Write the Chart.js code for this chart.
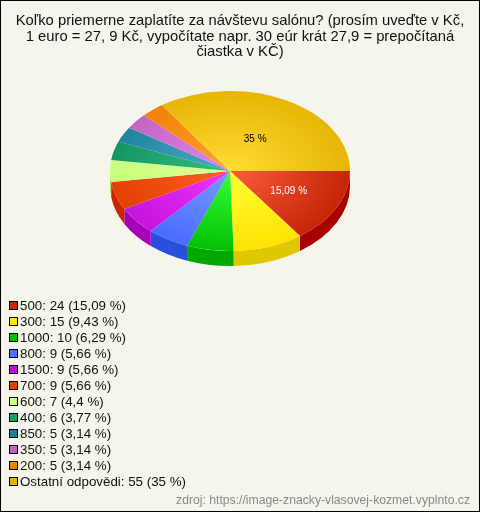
<!DOCTYPE html>
<html>
<head>
<meta charset="utf-8">
<script src="https://cdn.jsdelivr.net/npm/chart.js@4"></script>
<style>
  html, body { margin: 0; padding: 0; background: #f5f5ec; }
  #wrap { position: relative; width: 480px; height: 512px; overflow: hidden; background: #f5f5ec; font-family: "Liberation Sans", Arial, sans-serif; }
  #wrap canvas { position: absolute; left: 0; top: 0; }
  #frame { position: absolute; left: 0; top: 0; width: 478px; height: 510px; border: 1px solid #000; }
  #legend { position: absolute; left: 9px; top: 298px; font-size: 13.33px; color: #111; }
  #legend div { height: 16px; line-height: 16px; white-space: nowrap; }
  #legend i { display: inline-block; box-sizing: border-box; width: 9px; height: 9px; border: 1px solid #000; margin-right: 2px; vertical-align: 0; }
  #source { position: absolute; right: 10px; top: 493px; font-size: 12.2px; line-height: 14px; color: #888; }
</style>
</head>
<body>
<div id="wrap">
  <canvas id="pie" width="480" height="512"></canvas>
  <div id="frame"></div>
  <div id="legend"></div>
  <div id="source">zdroj: https://image-znacky-vlasovej-kozmet.vyplnto.cz</div>
</div>
<script>
/***************data********************/
const titleLines = [
  "Koľko priemerne zaplatíte za návštevu salónu? (prosím uveďte v Kč,",
  "1 euro = 27, 9 Kč, vypočítate napr. 30 eúr krát 27,9 = prepočítaná",
  "čiastka v KČ)"
];
const categories = ["500", "300", "1000", "800", "1500", "700", "600", "400", "850", "350", "200", "Ostatní odpovědi"];
const counts = [24, 15, 10, 9, 9, 9, 7, 6, 5, 5, 5, 55];
const percents = ["15,09", "9,43", "6,29", "5,66", "5,66", "5,66", "4,4", "3,77", "3,14", "3,14", "3,14", "35"];

const innerColors = ["#fa5c3c", "#ffff33", "#33ff33", "#7799ff", "#ee33ff", "#ff6020", "#ddff99", "#33c080", "#50a8c8", "#e088e8", "#ffa030", "#ffdd33"];
const outerColors = ["#bf1e00", "#ffdf00", "#00b800", "#4466ff", "#c010d8", "#e03c00", "#c4ff77", "#109060", "#1a7f9a", "#c060c0", "#ee7f00", "#e4b000"];
const sideColors = ["#a90000", "#e0c800", "#00a800", "#2a4fdd", "#a800b8", "#c82800", "#a8d860", "#007848", "#106880", "#a048a0", "#c86000", "#c09000"];
const legendColors = ["#c22a00", "#ffe600", "#00c000", "#4a70ff", "#c010d8", "#e04000", "#ccff80", "#10a060", "#1a7f9a", "#c060c0", "#ee7f00", "#e4b000"];

/***************3d look********************/
const pieX = 230, pieY = 171, squash = 2 / 3, depth = 15;
const labelAt = { 0: 0.55, 11: 0.45 };   // only the big slices carry a label

function flatten(ctx, arc) {
  ctx.translate(pieX, pieY);
  ctx.scale(1, squash);
  ctx.translate(-arc.x, -arc.y);
}

const pie3d = {
  id: "pie3d",
  beforeDatasetsDraw(chart) {
    const ctx = chart.ctx, arcs = chart.getDatasetMeta(0).data;
    // side wall, only the front half of the pie shows it
    arcs.forEach((arc, i) => {
      const from = Math.max(arc.startAngle, 0), to = Math.min(arc.endAngle, Math.PI);
      if (to <= from) return;
      const r = arc.outerRadius;
      ctx.save();
      ctx.translate(pieX, pieY);
      ctx.beginPath();
      ctx.ellipse(0, 0, r, r * squash, 0, from, to);
      ctx.ellipse(0, depth, r, r * squash, 0, to, from, true);
      ctx.closePath();
      ctx.fillStyle = sideColors[i];
      ctx.fill();
      ctx.restore();
    });
    ctx.save();
    flatten(ctx, arcs[0]);
  },
  afterDatasetsDraw(chart) {
    const ctx = chart.ctx, arcs = chart.getDatasetMeta(0).data;
    ctx.restore();
    ctx.save();
    ctx.font = '10px "Liberation Sans", Arial, sans-serif';
    ctx.textAlign = "center";
    ctx.textBaseline = "middle";
    Object.keys(labelAt).forEach(i => {
      const arc = arcs[i], mid = (arc.startAngle + arc.endAngle) / 2, r = arc.outerRadius * labelAt[i];
      ctx.fillStyle = i == 0 ? "#fff" : "#000";
      ctx.fillText(percents[i] + " %", pieX + Math.cos(mid) * r, pieY + Math.sin(mid) * r * squash);
    });
    ctx.restore();
  }
};

function sliceFill(c) {
  const area = c.chart.chartArea;
  if (!area) return outerColors[c.dataIndex];
  const x = (area.left + area.right) / 2, y = (area.top + area.bottom) / 2;
  const g = c.chart.ctx.createRadialGradient(x, y, 0, x, y, 135);
  g.addColorStop(0, innerColors[c.dataIndex]);
  g.addColorStop(1, outerColors[c.dataIndex]);
  return g;
}

/***************chart********************/
new Chart(document.getElementById("pie").getContext("2d"), {
  type: "pie",
  data: {
    labels: categories,
    datasets: [{ data: counts, backgroundColor: sliceFill, borderWidth: 0 }]
  },
  plugins: [pie3d],
  options: {
    responsive: false,
    animation: false,
    rotation: 90,
    radius: 120,
    layout: { padding: { top: 13, bottom: 190 } },
    plugins: {
      legend: { display: false },
      tooltip: { enabled: false },
      title: {
        display: true,
        text: titleLines,
        color: "#111",
        font: { family: '"Liberation Sans", Arial, sans-serif', size: 14.8, weight: "normal", lineHeight: 1.06 },
        padding: 0
      }
    }
  }
});

/***************legend********************/
document.getElementById("legend").innerHTML = categories.map((name, i) =>
  `<div><i style="background:${legendColors[i]}"></i>${name}: ${counts[i]} (${percents[i]} %)</div>`
).join("");
</script>
</body>
</html>
